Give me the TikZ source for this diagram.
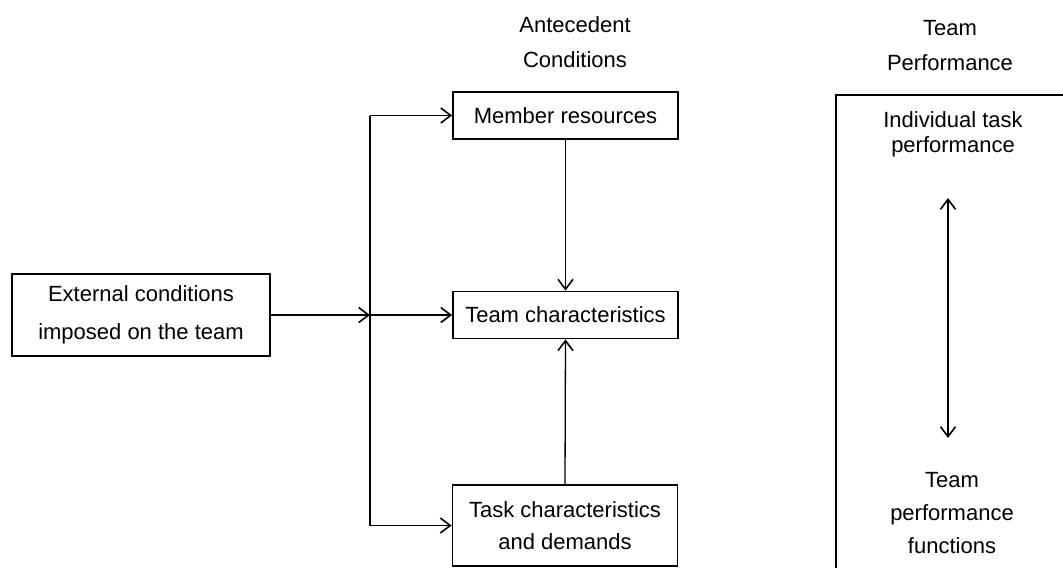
\documentclass[tikz,border=0pt]{standalone}
\usepackage{fontspec}
\setmainfont{Liberation Sans}
\usetikzlibrary{arrows.meta}
\begin{document}
\begin{tikzpicture}[x=1pt,y=-1pt,
  line width=1.7pt,
  txt/.style={align=center, inner sep=0pt, font=\fontsize{22}{#1}\selectfont},
  txt/.default=33,
  box/.style={draw, align=center, inner sep=0pt, minimum width=225pt,
    minimum height=47pt, font=\fontsize{22}{32}\selectfont},
  arr/.style={-{Straight Barb[length=10pt,width=15pt,line width=1.6pt]}},
  darr/.style={{Straight Barb[length=10pt,width=15pt,line width=1.6pt]}-{Straight Barb[length=10pt,width=15pt,line width=1.6pt]}}]
\useasboundingbox (0,0) rectangle (1063,568);

% column headings
\node[txt=35] (ante) at (575,42.5) {Antecedent\\Conditions};
\node[txt=35] (tphead) at (950,45.5) {Team\\Performance};

% boxes
\node[box, minimum width=258pt, minimum height=82pt,
  font=\fontsize{22}{38}\selectfont] (ext) at (141,315) {External conditions\\imposed on the team};
\node[box] (mem) at (565.5,115.5) {Member resources};
\node[box] (team) at (565.5,315) {Team characteristics};
\node[box, minimum height=81pt] (task) at (565,525.5) {Task characteristics\\and demands};

% distribution bus on the left of the antecedent column
\coordinate (bt) at (370,115.5);
\coordinate (bb) at (370,525.5);
\coordinate (j) at (370,315);
\draw (bt) -- (bb);
\draw[arr] (bt) -- (mem.west);
\draw[arr] (bb) -- (task.west);
\draw[arr] (ext.east) -- (j);
\draw[arr] (j) -- (team.west);

% influences on team characteristics
\draw[arr, line width=1.3pt] (mem.south) -- (team.north);
\draw[arr, line width=1.3pt] (task.north) -- (team.south);

% team performance panel
\coordinate (pc) at (836,95);
\draw (1063,95) -- (pc) -- (836,568);
\node[txt=25] (indiv) at (953,134.5) {Individual task\\performance};
\node[txt=33] (tpf) at (952,513) {Team\\performance\\functions};
\coordinate (up) at (948,198);
\coordinate (dn) at (948,438);
\draw[darr] (up) -- (dn);
\end{tikzpicture}
\end{document}
